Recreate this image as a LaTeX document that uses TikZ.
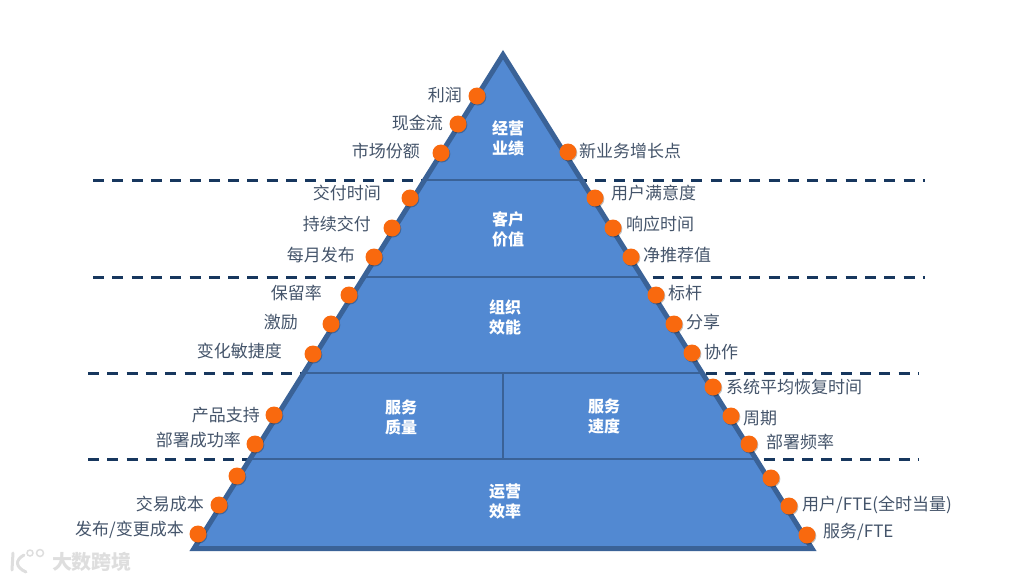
\documentclass[tikz,border=0pt]{standalone}
\usepackage{fontspec}
\setmainfont{Noto Sans CJK SC}
\usepackage{xcolor}
\usetikzlibrary{positioning}
\definecolor{fillBlue}{HTML}{5289D2}
\definecolor{edgeBlue}{HTML}{3A6297}
\definecolor{dashBlue}{HTML}{17375E}
\definecolor{dotOrange}{HTML}{F9690E}
\definecolor{textGrey}{HTML}{44546A}
\tikzset{
	dot/.style={circle, fill=dotOrange, minimum size=17pt, inner sep=0pt, preaction={draw=none, fill=black, fill opacity=0.25, transform canvas={xshift=0.8pt, yshift=-1pt}}},
	lab/.style={font=\fontsize{17pt}{19pt}\selectfont, text=textGrey, inner sep=0pt},
	labl/.style={lab, anchor=east},
	labr/.style={lab, anchor=west},
	titlelab/.style={font=\fontsize{16pt}{20pt}\selectfont\bfseries, text=white, align=center, inner sep=0pt},
	levelline/.style={edgeBlue, line width=2.5pt},
	cutline/.style={dashBlue, line width=3pt, dash pattern=on 11pt off 8.3pt},
	wmark/.style={font=\fontsize{20pt}{22pt}\selectfont\bfseries, text=black!13, inner sep=0pt}
}

\begin{document}
\begin{tikzpicture}[x=1pt, y=-1pt]
	\useasboundingbox (0,0) rectangle (1021,581);
	% dashed level marks
	\coordinate (a1) at (93,180);
	\coordinate (b1) at (925,180);
	\coordinate (a2) at (93,277);
	\coordinate (b2) at (925,277);
	\coordinate (a3) at (88,373);
	\coordinate (b3) at (918,373);
	\coordinate (a4) at (88,459);
	\coordinate (b4) at (918,459);
	\draw[cutline] (a1) -- (b1);
	\draw[cutline] (a2) -- (b2);
	\draw[cutline] (a3) -- (b3);
	\draw[cutline] (a4) -- (b4);

	% pyramid
	\coordinate (top) at (503,54.7);
	\coordinate (bl) at (194,548.5);
	\coordinate (br) at (812,548.5);
	\draw[edgeBlue, fill=fillBlue, line width=5pt] (top) -- (br) -- (bl) -- cycle;
	\coordinate (p1) at (424.6,180);
	\coordinate (q1) at (581.4,180);
	\coordinate (p2) at (364,277);
	\coordinate (q2) at (642,277);
	\coordinate (p3) at (303.9,373);
	\coordinate (q3) at (702.1,373);
	\coordinate (p4) at (250.1,459);
	\coordinate (q4) at (755.9,459);
	\coordinate (m3) at (503,373);
	\coordinate (m4) at (503,459);
	\draw[levelline] (p1) -- (q1);
	\draw[levelline] (p2) -- (q2);
	\draw[levelline] (p3) -- (q3);
	\draw[levelline] (p4) -- (q4);
	\draw[levelline] (m3) -- (m4);

	% titles
	\node[titlelab] (jingying) at (508,138) {经营\\业绩};
	\node[titlelab] (kehu) at (508,229) {客户\\价值};
	\node[titlelab] (zuzhi) at (505,317) {组织\\效能};
	\node[titlelab] (zhiliang) at (401,417) {服务\\质量};
	\node[titlelab] (sudu) at (604,416) {服务\\速度};
	\node[titlelab] (yunying) at (505,501) {运营\\效率};

	% left dots
	\node[dot] (l1) at (477,96) {};
	\node[dot] (l2) at (458,124) {};
	\node[dot] (l3) at (441,153) {};
	\node[dot] (l4) at (410,198) {};
	\node[dot] (l5) at (392,228) {};
	\node[dot] (l6) at (374,257) {};
	\node[dot] (l7) at (349,295) {};
	\node[dot] (l8) at (331,324) {};
	\node[dot] (l9) at (313,354) {};
	\node[dot] (l10) at (274,415) {};
	\node[dot] (l11) at (255,444) {};
	\node[dot] (l12) at (237,476) {};
	\node[dot] (l13) at (219,505) {};
	\node[dot] (l14) at (198,534) {};

	% right dots
	\node[dot] (r1) at (568,152) {};
	\node[dot] (r2) at (595,198) {};
	\node[dot] (r3) at (613,228) {};
	\node[dot] (r4) at (631,257) {};
	\node[dot] (r5) at (656,295) {};
	\node[dot] (r6) at (674,324) {};
	\node[dot] (r7) at (692,353) {};
	\node[dot] (r8) at (713,387) {};
	\node[dot] (r9) at (731,416) {};
	\node[dot] (r10) at (749,444) {};
	\node[dot] (r11) at (771,478) {};
	\node[dot] (r12) at (789,506) {};
	\node[dot] (r13) at (807,535) {};

	% left labels
	\node[labl] (lt1) at (462,95) {利润};
	\node[labl] (lt2) at (443,123) {现金流};
	\node[labl] (lt3) at (420,151) {市场份额};
	\node[labl] (lt4) at (381,193) {交付时间};
	\node[labl] (lt5) at (371,224) {持续交付};
	\node[labl] (lt6) at (355,255) {每月发布};
	\node[labl] (lt7) at (322,293) {保留率};
	\node[labl] (lt8) at (298,322) {激励};
	\node[labl] (lt9) at (282,351) {变化敏捷度};
	\node[labl] (lt10) at (260,415) {产品支持};
	\node[labl] (lt11) at (241,440) {部署成功率};
	\node[labl] (lt13) at (204,504) {交易成本};
	\node[labl] (lt14) at (184,530) {发布/变更成本};

	% right labels
	\node[labr] (rt1) at (579,151) {新业务增长点};
	\node[labr] (rt2) at (611,193) {用户满意度};
	\node[labr] (rt3) at (626,224) {响应时间};
	\node[labr] (rt4) at (643,255) {净推荐值};
	\node[labr] (rt5) at (668,293) {标杆};
	\node[labr] (rt6) at (686,322) {分享};
	\node[labr] (rt7) at (704,352) {协作};
	\node[labr] (rt8) at (726,387) {系统平均恢复时间};
	\node[labr] (rt9) at (743,418) {周期};
	\node[labr] (rt10) at (766,442) {部署频率};
	\node[labr] (rt12) at (802,505) {用户/FTE(全时当量)};
	\node[labr] (rt13) at (823,532) {服务/FTE};

	% watermark
	\draw[black!13, line width=3pt, line cap=round] (13,553) -- (12,570);
	\draw[black!13, line width=3pt, line cap=round] (24,555) .. controls (15,560) and (15,567) .. (26,572);
	\draw[black!13, line width=1.5pt] (30,553) circle (3pt);
	\draw[black!13, line width=1.5pt] (40,553) circle (3.5pt);
	\node[wmark] (shuju) at (92,562) {大数跨境};
\end{tikzpicture}
\end{document}
